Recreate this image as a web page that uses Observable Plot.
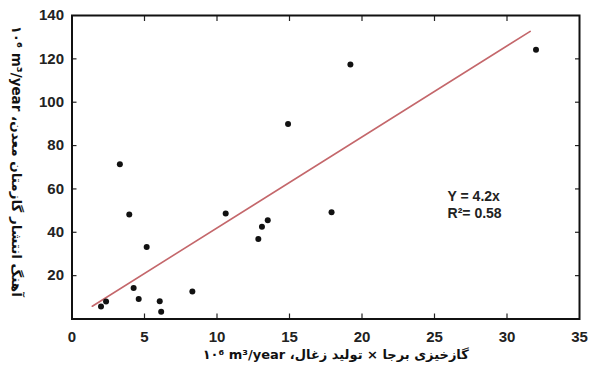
<!DOCTYPE html>
<html>
<head>
<meta charset="utf-8">
<script src="https://cdn.jsdelivr.net/npm/d3@7"></script>
<script src="https://cdn.jsdelivr.net/npm/@observablehq/plot@0.6"></script>
<style>
  html, body { margin: 0; padding: 0; background: #fff; }
  #chart svg { display: block; }
</style>
</head>
<body>
<div id="chart"></div>
<script>
// Gas content × coal production (10^6 m3/year) vs mine methane emission rate (10^6 m3/year)
const gasProduction = [2.0, 2.35, 3.3, 3.95, 4.25, 4.6, 5.15, 6.05, 6.15, 8.3, 10.6, 12.85, 13.1, 13.5, 14.9, 17.9, 19.2, 32.0];
const methaneEmission = [5.8, 8.1, 71.4, 48.2, 14.3, 9.2, 33.2, 8.2, 3.3, 12.7, 48.7, 36.9, 42.5, 45.5, 89.9, 49.2, 117.4, 124.2];
const fitX = [1.4, 31.6];
const fitY = [5.9, 132.7];
const xTicks = [0, 5, 10, 15, 20, 25, 30, 35];
const yTicks = [20, 40, 60, 80, 100, 120, 140];
const annotationLines = ["Y = 4.2x", "R²= 0.58"];
const RLE = "\u202B", PDF = "\u202C", RLM = "\u200F";
const xTitle = RLE + "گازخیزی برجا × تولید زغال، m³/year" + RLM + " ۱۰⁶" + PDF;
const yTitle = RLE + "آهنگ انتشار گازمتان معدن، m³/year" + RLM + " ۱۰⁶" + PDF;

const points = gasProduction.map((x, i) => ({x, y: methaneEmission[i]}));
const fit = fitX.map((x, i) => ({x, y: fitY[i]}));

const chart = Plot.plot({
  width: 590,
  height: 376,
  marginLeft: 71.5,
  marginRight: 11,
  marginTop: 15,
  marginBottom: 57.5,
  style: {fontFamily: "'Liberation Sans', Arial, sans-serif", fontSize: "15px", background: "#fff", color: "#222"},
  x: {domain: [0, 35]},
  y: {domain: [0, 140]},
  marks: [
    // tick labels
    Plot.axisX(xTicks, {anchor: "bottom", tickSize: 0, tickPadding: 12, fontWeight: "bold", fill: "#222", label: null}),
    Plot.axisY(yTicks, {anchor: "left", tickSize: 0, tickPadding: 8, fontWeight: "bold", fill: "#222", label: null}),
    // inward ticks on all four sides
    Plot.axisX(xTicks.slice(1, -1), {anchor: "bottom", tickSize: -5, text: null, label: null, stroke: "#222", strokeWidth: 1.2}),
    Plot.axisX(xTicks.slice(1, -1), {anchor: "top", tickSize: -5, text: null, label: null, stroke: "#222", strokeWidth: 1.2}),
    Plot.axisY(yTicks.slice(0, -1), {anchor: "left", tickSize: -5, text: null, label: null, stroke: "#222", strokeWidth: 1.2}),
    Plot.axisY(yTicks.slice(0, -1), {anchor: "right", tickSize: -5, text: null, label: null, stroke: "#222", strokeWidth: 1.2}),
    Plot.frame({stroke: "#111", strokeWidth: 2}),
    Plot.line(fit, {x: "x", y: "y", stroke: "#c4676b", strokeWidth: 1.6}),
    Plot.dot(points, {x: "x", y: "y", r: 3, fill: "#111", stroke: "none"}),
    Plot.text([annotationLines.join("\n")], {x: 25.9, y: 53, text: d => d, textAnchor: "start", lineHeight: 1.25, fontSize: 14, fontWeight: "bold", fill: "#222"}),
    // axis titles
    Plot.text([xTitle], {frameAnchor: "bottom", textAnchor: "middle", dy: 40, dx: 10, text: d => d, fontFamily: "'DejaVu Sans', sans-serif", fontSize: 13, fontWeight: "bold", fill: "#111"}),
    Plot.text([yTitle], {frameAnchor: "left", textAnchor: "middle", dx: -56, dy: -6, rotate: 90, text: d => d, fontFamily: "'DejaVu Sans', sans-serif", fontSize: 13.5, fontWeight: "bold", fill: "#111"})
  ]
});
document.getElementById("chart").appendChild(chart);
</script>
</body>
</html>
